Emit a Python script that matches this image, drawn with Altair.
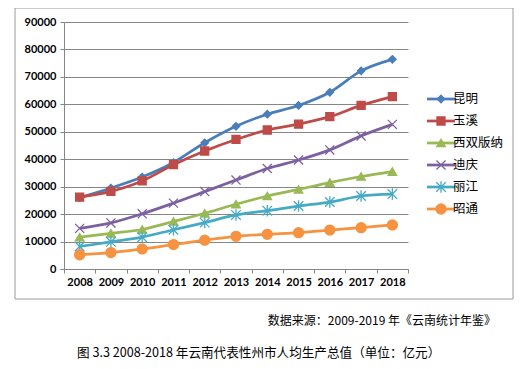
import altair as alt
import pandas as pd

years = [str(y) for y in range(2008, 2019)]
series = ["昆明", "玉溪", "西双版纳", "迪庆", "丽江", "昭通"]
kunming = [26000, 29500, 33500, 38800, 46000, 52000, 56400, 59600, 64400, 72200, 76400]
yuxi = [26200, 28300, 32100, 38000, 43000, 47200, 50650, 52800, 55500, 59600, 62800]
xishuangbanna = [11600, 13000, 14400, 17300, 20300, 23600, 26600, 29000, 31500, 33700, 35500]
diqing = [14800, 16800, 20100, 24000, 28200, 32400, 36600, 39700, 43400, 48500, 52700]
lijiang = [8200, 9900, 11600, 14300, 16900, 19700, 21250, 22950, 24400, 26600, 27300]
zhaotong = [5200, 6000, 7300, 8900, 10500, 11900, 12650, 13250, 14200, 15050, 16050]
values = [kunming, yuxi, xishuangbanna, diqing, lijiang, zhaotong]

colors = ["#4A7EBB", "#BE4B48", "#98B954", "#7D60A0", "#46AAC5", "#F69240"]
shapes = ["diamond", "square", "triangle-up",
          "M-1,-1L1,1M-1,1L1,-1",
          "M-1,-1L1,1M-1,1L1,-1M0,-1.2L0,1.2",
          "circle"]
sizes = [55, 100, 95, 70, 70, 115]

source_note = "数据来源：2009-2019 年《云南统计年鉴》"
caption = "图 3.3 2008-2018 年云南代表性州市人均生产总值（单位：亿元）"

rows = []
for s, vals in zip(series, values):
    for y, v in zip(years, vals):
        rows.append({"year": y, "series": s, "value": v})
df = pd.DataFrame(rows)
leg = pd.DataFrame({"series": series})

FONT = "Noto Sans CJK SC"
color = alt.Color("series:N", scale=alt.Scale(domain=series, range=colors), legend=None)
shape = alt.Shape("series:N", scale=alt.Scale(domain=series, range=shapes), legend=None)
size = alt.Size("series:N", scale=alt.Scale(domain=series, range=sizes), legend=None)
fill = alt.Fill("series:N", scale=alt.Scale(domain=series, range=colors), legend=None)
stroke = alt.Stroke("series:N", scale=alt.Scale(domain=series, range=colors), legend=None)

x = alt.X("year:N", sort=years, title=None,
          scale=alt.Scale(paddingInner=0, paddingOuter=0),
          axis=alt.Axis(labelAngle=0, labelFont="Lato", labelFontSize=11, labelColor="#000",
                        labelFontWeight="bold",
                        tickBand="extent", tickColor="#868686", domainColor="#868686",
                        tickSize=4, grid=False, labelPadding=3))
y = alt.Y("value:Q", title=None,
          scale=alt.Scale(domain=[0, 90000], nice=False),
          axis=alt.Axis(values=list(range(0, 90001, 10000)), labelFont="Lato", labelFontSize=11,
                        labelColor="#000", labelFontWeight="bold", format="d",
                        tickColor="#868686", domainColor="#868686", tickSize=4,
                        gridColor="#868686", gridWidth=1, labelPadding=4))

base = alt.Chart(df)
lines = base.mark_line(strokeWidth=2.75, interpolate="monotone").encode(
    x=x, y=y, color=color, detail="series:N")
points = base.mark_point(filled=False, opacity=1, strokeWidth=1.3).encode(
    x=x, y=y, shape=shape, size=size, fill=fill, stroke=stroke)
main = alt.layer(lines, points)

ly = alt.Y("series:N", sort=series, axis=None,
           scale=alt.Scale(type="point", range=[77, 187], padding=0))
lb = alt.Chart(leg)
leg_line = lb.mark_rule(strokeWidth=2.75).encode(
    x=alt.value(363), x2=alt.value(391), y=ly, color=color)
leg_pt = lb.mark_point(filled=False, opacity=1, strokeWidth=1.3).encode(
    x=alt.value(377), y=ly, shape=shape, size=size, fill=fill, stroke=stroke)
leg_txt = lb.mark_text(align="left", baseline="middle", font=FONT, fontSize=12.5,
                       color="#000").encode(
    x=alt.value(389), y=ly, text="series:N")
legend = alt.layer(leg_line, leg_pt, leg_txt)

box = alt.Chart(pd.DataFrame({"a": [0]})).mark_rect(
    fill=None, stroke="#9A9A9A", strokeWidth=1).encode(
    x=alt.value(-49), x2=alt.value(449), y=alt.value(-14), y2=alt.value(277))

note = alt.Chart(pd.DataFrame({"t": [source_note]})).mark_text(
    align="right", baseline="middle", font=FONT, fontSize=12, color="#000").encode(
    x=alt.value(432), y=alt.value(299), text="t:N")
cap = alt.Chart(pd.DataFrame({"t": [caption]})).mark_text(
    align="left", baseline="middle", font=FONT, fontSize=12.6, color="#000").encode(
    x=alt.value(13), y=alt.value(331), text="t:N")

chart = alt.layer(box, main, legend, note, cap).resolve_scale(
    y="independent").properties(
    width=344, height=247,
    autosize=alt.AutoSizeParams(type="none"),
    padding={"left": 56, "top": 14, "right": 108, "bottom": 92},
    background="white").configure_view(stroke=None)

chart.save("out.html", embed_options={"renderer": "svg", "actions": False})
